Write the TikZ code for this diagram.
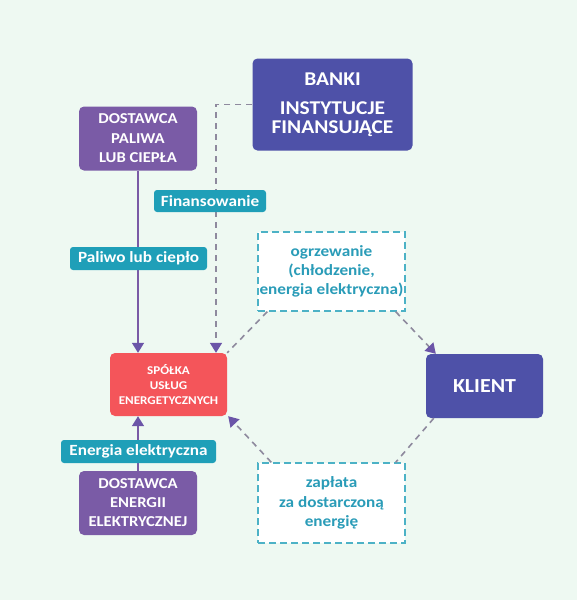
\documentclass[tikz,border=0pt]{standalone}
\usepackage{fontspec}
\setmainfont{Carlito}[FakeStretch=1.1]
\usetikzlibrary{arrows.meta,calc}
\definecolor{bg}{HTML}{EEF9F2}
\definecolor{navy}{HTML}{4E51A8}
\definecolor{violet}{HTML}{7A5BA6}
\definecolor{redbox}{HTML}{F4555A}
\definecolor{teal}{HTML}{1F9FB8}
\definecolor{tealtxt}{HTML}{2A9CB8}
\definecolor{dashgray}{HTML}{8E8A9E}
\definecolor{tip}{HTML}{6B55A8}
\tikzset{
  box/.style={rectangle, rounded corners=5pt, inner sep=0pt, text=white, align=center, font=\bfseries},
  navybox/.style={box, fill=navy},
  violetbox/.style={box, fill=violet, minimum width=118pt, minimum height=64pt},
  redbx/.style={box, fill=redbox},
  tag/.style={rectangle, rounded corners=3pt, fill=teal, text=white, inner sep=0pt, font=\bfseries\fontsize{15.6}{18}\selectfont},
  flowbox/.style={rectangle, draw=teal!80, dash pattern=on 7pt off 4pt, line width=1.3pt, fill=white, text=tealtxt, align=center, inner sep=0pt, minimum width=147pt},
  solidline/.style={draw=violet, line width=1.5pt},
  dashline/.style={draw=dashgray, line width=1.6pt, dash pattern=on 6pt off 5pt},
  tipend/.style={-{Triangle[width=12pt,length=10pt,fill=tip,color=tip]}},
}
\begin{document}
\begin{tikzpicture}[x=1pt,y=-1pt]
\useasboundingbox (0,0) rectangle (577,600);
\fill[bg] (0,0) rectangle (577,600);

\node[navybox, minimum width=160pt, minimum height=92pt, font=\bfseries\fontsize{19.5}{18.5}\selectfont] (banki) at (332.5,104.5) {BANKI\\[11pt]INSTYTUCJE\\FINANSUJĄCE};
\node[violetbox, font=\bfseries\fontsize{15.1}{19.4}\selectfont] (dp) at (138,138.5) {DOSTAWCA\\PALIWA\\LUB CIEPŁA};
\node[redbx, minimum width=117pt, minimum height=63pt, font=\bfseries\fontsize{11.9}{14.7}\selectfont] (sp) at (168.5,384.5) {SPÓŁKA\\USŁUG\\ENERGETYCZNYCH};
\node[navybox, minimum width=117pt, minimum height=64pt, font=\bfseries\fontsize{19.9}{20}\selectfont] (kl) at (484.5,386) {KLIENT};
\node[violetbox, font=\bfseries\fontsize{15.1}{19}\selectfont] (de) at (138,503) {DOSTAWCA\\ENERGII\\ELEKTRYCZNEJ};

\node[flowbox, minimum height=79pt, font=\bfseries\fontsize{15.6}{18.8}\selectfont] (og) at (331.5,271.5) {ogrzewanie\\(chłodzenie,\\energia elektryczna)};
\node[flowbox, minimum height=80pt, font=\bfseries\fontsize{15.6}{19.2}\selectfont] (za) at (331.5,503) {zapłata\\za dostarczoną\\energię};

% connectors
\draw[solidline, tipend] (dp.south) -- (dp.south |- sp.north);
\draw[solidline, tipend] (de.north) -- (de.north |- sp.south);
\draw[dashline, tipend] (banki.west) -| ([xshift=47.5pt]sp.north);
\draw[dashline] ([xshift=10pt]og.south west) -- (sp.north east);
\draw[dashline, tipend] ([xshift=-10pt]og.south east) -- ([xshift=10pt]kl.north west);
\draw[dashline] ([xshift=8pt]kl.south west) -- ([xshift=-10pt]za.north east);
\draw[dashline, tipend] ([xshift=14pt]za.north west) -- ([xshift=1pt]sp.south east);

% tags
\node[tag, minimum width=112pt, minimum height=22pt] (fin) at (210,201) {Finansowanie};
\node[tag, minimum width=137pt, minimum height=23pt] (pal) at (138.5,258.5) {Paliwo lub ciepło};
\node[tag, minimum width=155pt, minimum height=23pt] (ene) at (138.5,451.5) {Energia elektryczna};
\end{tikzpicture}
\end{document}
